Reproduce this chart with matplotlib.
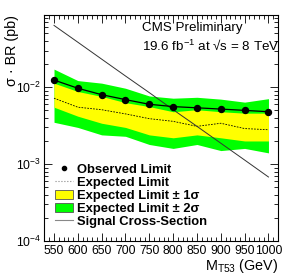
import numpy as np
import matplotlib
matplotlib.use("Agg")
from matplotlib import pyplot as plt
from matplotlib.ticker import MultipleLocator, LogLocator, NullFormatter
from matplotlib.patches import Patch
from matplotlib.lines import Line2D

plt.rcParams['font.family'] = ['Liberation Sans', 'DejaVu Sans']
plt.rcParams['mathtext.fontset'] = 'custom'
plt.rcParams['mathtext.rm'] = 'Liberation Sans'
plt.rcParams['mathtext.it'] = 'Liberation Sans:italic'

# 数据：质量点 和 各条极限
mass = [550, 600, 650, 700, 750, 800, 850, 900, 950, 1000]
observed = [0.0124, 0.0097, 0.0080, 0.0069, 0.0060, 0.0056, 0.0054, 0.0052, 0.0050, 0.0048]
expected = [0.0072, 0.0055, 0.0051, 0.0045, 0.0039, 0.0036, 0.0031, 0.0034, 0.0029, 0.0028]
exp_1s_up = [0.0113, 0.0088, 0.0076, 0.0063, 0.0056, 0.0048, 0.0051, 0.0048, 0.0046, 0.0046]
exp_1s_dn = [0.0055, 0.0042, 0.0034, 0.0030, 0.0024, 0.0022, 0.0024, 0.0022, 0.0020, 0.0020]
exp_2s_up = [0.0172, 0.0122, 0.0113, 0.0097, 0.0077, 0.0072, 0.0074, 0.0070, 0.0064, 0.0071]
exp_2s_dn = [0.0035, 0.0030, 0.0024, 0.0023, 0.0018, 0.0016, 0.0018, 0.0015, 0.0016, 0.0014]
signal_xsec = [0.0637, 0.0385, 0.0232, 0.0140, 0.0085, 0.0051, 0.0031, 0.00187, 0.00113, 0.00068]

fig = plt.figure(figsize=(2.91, 2.79), dpi=100)
ax = fig.add_axes([44 / 291, 38 / 279, 234 / 291, 226 / 279])

# 1、误差带
ax.fill_between(mass, exp_2s_dn, exp_2s_up, color='#00ff00', lw=0)
ax.fill_between(mass, exp_1s_dn, exp_1s_up, color='#ffff00', lw=0)

# 2、曲线
ax.plot(mass, expected, color='black', ls=(0, (2, 1.5)), lw=0.6)
ax.plot(mass, signal_xsec, color='#333333', lw=0.7)
ax.plot(mass, observed, color='black', lw=0.9, marker='o', ms=4.3)

ax.set_yscale('log')
ax.set_xlim(529, 1020)
ax.set_ylim(1e-4, 0.087)

# 3、坐标轴刻度
ax.xaxis.set_major_locator(MultipleLocator(50))
ax.xaxis.set_minor_locator(MultipleLocator(10))
ax.yaxis.set_major_locator(LogLocator(base=10, numticks=10))
ax.yaxis.set_minor_locator(LogLocator(base=10, subs=np.arange(2, 10), numticks=10))
ax.yaxis.set_minor_formatter(NullFormatter())
ax.tick_params(which='both', direction='in', top=True, right=True, labelsize=8.8)
ax.tick_params(axis='x', pad=3)
ax.tick_params(axis='y', pad=2)
ax.tick_params(which='major', length=6, width=0.6)
ax.tick_params(which='minor', length=3, width=0.6)
for s in ax.spines.values():
    s.set_linewidth(0.8)

ax.set_ylabel('σ · BR (pb)', fontsize=10.3, loc='top')
ax.yaxis.set_label_coords(-0.105, 1.0)
ax.set_xlabel(r'M$_{\mathrm{T53}}$ (GeV)', fontsize=10.4, loc='right', labelpad=0)

ax.text(0.418, 0.97, 'CMS Preliminary', transform=ax.transAxes, fontsize=9.6, va='top')
ax.text(0.418, 0.895, r'19.6 fb$^{\mathrm{-1}}$ at √s = 8 TeV',
        transform=ax.transAxes, fontsize=9.6, va='top')

# 4、图例
handles = [
    Line2D([], [], color='black', marker='o', ls='none', ms=3),
    Line2D([], [], color='#888888', ls=':', lw=0.8),
    Patch(facecolor='#ffff00', edgecolor='#555555', lw=0.6),
    Patch(facecolor='#00ff00', edgecolor='#555555', lw=0.6),
    Line2D([], [], color='#888888', lw=0.8),
]
labels = ['Observed Limit', 'Expected Limit',
          'Expected Limit ± 1σ', 'Expected Limit ± 2σ',
          'Signal Cross-Section']
ax.legend(handles, labels, loc='lower left', bbox_to_anchor=(0.02, 0.03),
          frameon=False, prop={'size': 9.4, 'weight': 'bold'},
          handlelength=1.4, handletextpad=0.3, labelspacing=0.06, borderpad=0)

fig.savefig('out.png', dpi=100)
